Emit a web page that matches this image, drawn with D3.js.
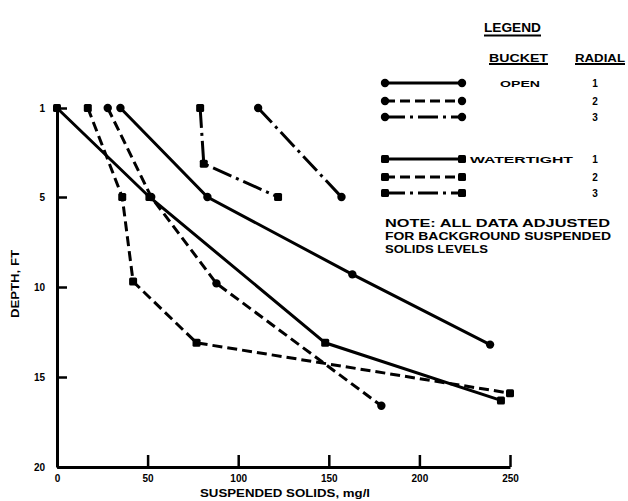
<!DOCTYPE html>
<html>
<head>
<meta charset="utf-8">
<script src="https://cdn.jsdelivr.net/npm/d3@7"></script>
<style>
    body { margin: 0; background: #fff; }
    svg text { font-family: "Liberation Sans", Arial, sans-serif; font-weight: bold; fill: #000; }
</style>
</head>
<body>
<div id="chart"></div>
<script>
// values
const xTicks = [0, 50, 100, 150, 200, 250];
const yTicks = [1, 5, 10, 15, 20];

// open bucket
const open1Solids = [35, 83, 163, 239];
const open1Depth = [1, 5, 9.3, 13.2];
const open2Solids = [28, 52, 88, 179];
const open2Depth = [1, 5, 9.8, 16.6];
const open3Solids = [111, 157];
const open3Depth = [1, 5];

// watertight bucket
const tight1Solids = [0, 51, 148, 245];
const tight1Depth = [1, 5, 13.1, 16.3];
const tight2Solids = [17, 36, 42, 77, 250];
const tight2Depth = [1, 5, 9.7, 13.1, 15.9];
const tight3Solids = [79, 81, 122];
const tight3Depth = [1, 3.5, 5];

const buckets = ["OPEN", "WATERTIGHT"];
const radials = ["1", "2", "3"];
const noteLines = ["NOTE: ALL DATA ADJUSTED", "FOR BACKGROUND SUSPENDED", "SOLIDS LEVELS"];

const dashes = { "1": null, "2": "10,5", "3": "20,5,3,5" };

function zipSeries(solids, depth) {
    return solids.map((v, i) => ({ solids: v, depth: depth[i] }));
}

const series = [
    { bucket: "OPEN", radial: "1", points: zipSeries(open1Solids, open1Depth) },
    { bucket: "OPEN", radial: "2", points: zipSeries(open2Solids, open2Depth) },
    { bucket: "OPEN", radial: "3", points: zipSeries(open3Solids, open3Depth) },
    { bucket: "WATERTIGHT", radial: "1", points: zipSeries(tight1Solids, tight1Depth) },
    { bucket: "WATERTIGHT", radial: "2", points: zipSeries(tight2Solids, tight2Depth) },
    { bucket: "WATERTIGHT", radial: "3", points: zipSeries(tight3Solids, tight3Depth) }
];

const W = 628, H = 501;

const svg = d3.select("#chart").append("svg")
    .attr("width", W)
    .attr("height", H);

const x = d3.scaleLinear().domain([0, 250]).range([57, 510]);
// top tick is labelled 1 but sits higher than an even spacing would put it
const y = d3.scaleLinear().domain([1, 5, 20]).range([108, 197, 467]);

// axes
const xAxis = d3.axisBottom(x)
    .tickValues(xTicks)
    .tickSizeInner(-12)
    .tickSizeOuter(0)
    .tickPadding(8)
    .tickFormat(d3.format("d"));

const yAxis = d3.axisLeft(y)
    .tickValues(yTicks)
    .tickSizeInner(-10)
    .tickSizeOuter(0)
    .tickPadding(12)
    .tickFormat(d3.format("d"));

const gx = svg.append("g")
    .attr("transform", "translate(0," + y(20) + ")")
    .call(xAxis);

const gy = svg.append("g")
    .attr("transform", "translate(" + x(0) + ",0)")
    .call(yAxis);

[gx, gy].forEach(g => {
    g.select(".domain").attr("stroke", "#000").attr("stroke-width", 3);
    g.selectAll(".tick line").attr("stroke", "#000").attr("stroke-width", 2.5);
    g.selectAll(".tick text")
        .attr("font-family", "Liberation Sans, Arial, sans-serif")
        .attr("font-weight", "bold")
        .attr("font-size", 10)
        .attr("fill", "#000");
});

// axis titles
svg.append("text")
    .attr("transform", "translate(19,284) rotate(-90)")
    .attr("text-anchor", "middle")
    .attr("font-size", 10)
    .attr("textLength", 68)
    .attr("lengthAdjust", "spacingAndGlyphs")
    .text("DEPTH, FT");

svg.append("text")
    .attr("x", 200)
    .attr("y", 497)
    .attr("font-size", 10)
    .attr("textLength", 170)
    .attr("lengthAdjust", "spacingAndGlyphs")
    .text("SUSPENDED SOLIDS, mg/l");

// data lines
const line = d3.line()
    .x(d => x(d.solids))
    .y(d => y(d.depth));

function drawMarker(g, bucket, cx, cy) {
    if (bucket === "OPEN") {
        g.append("circle").attr("cx", cx).attr("cy", cy).attr("r", 4.2).attr("fill", "#000");
    } else {
        g.append("rect").attr("x", cx - 4).attr("y", cy - 4)
            .attr("width", 8).attr("height", 8).attr("rx", 1.5).attr("fill", "#000");
    }
}

const plot = svg.append("g");
series.forEach(s => {
    plot.append("path")
        .datum(s.points)
        .attr("d", line)
        .attr("fill", "none")
        .attr("stroke", "#000")
        .attr("stroke-width", 3)
        .attr("stroke-dasharray", dashes[s.radial]);
    s.points.forEach(p => drawMarker(plot, s.bucket, x(p.solids), y(p.depth)));
});

// legend
const lg = svg.append("g");

function legendText(txt, x0, yb, size, len, anchor) {
    const t = lg.append("text")
        .attr("x", x0)
        .attr("y", yb)
        .attr("font-size", size)
        .attr("text-anchor", anchor || "start")
        .text(txt);
    if (len) t.attr("textLength", len).attr("lengthAdjust", "spacingAndGlyphs");
    return t;
}

function underline(x0, x1, yy) {
    lg.append("line").attr("x1", x0).attr("x2", x1).attr("y1", yy).attr("y2", yy)
        .attr("stroke", "#000").attr("stroke-width", 2);
}

legendText("LEGEND", 484, 32, 13, 57);
underline(484, 541, 35.5);
legendText("BUCKET", 489, 62, 11, 59);
underline(489, 548, 64);
legendText("RADIAL", 575, 62, 11, 50);
underline(575, 625, 64);

const rowY = [83, 101, 117, 159, 177, 193];
series.forEach((s, i) => {
    const ry = rowY[i];
    lg.append("line")
        .attr("x1", 385).attr("x2", 462)
        .attr("y1", ry).attr("y2", ry)
        .attr("stroke", "#000")
        .attr("stroke-width", 3)
        .attr("stroke-dasharray", dashes[s.radial]);
    drawMarker(lg, s.bucket, 385, ry);
    drawMarker(lg, s.bucket, 462, ry);
    legendText(s.radial, 595, ry + 3.5, 10, null, "middle");
});

legendText(buckets[0], 500, rowY[0] + 3.5, 9.5, 40);
legendText(buckets[1], 470, rowY[3] + 3.5, 9.5, 103);

const noteLen = [225, 226, 103];
noteLines.forEach((t, i) => legendText(t, 385, 226.5 + i * 13, 10.5, noteLen[i]));
</script>
</body>
</html>
